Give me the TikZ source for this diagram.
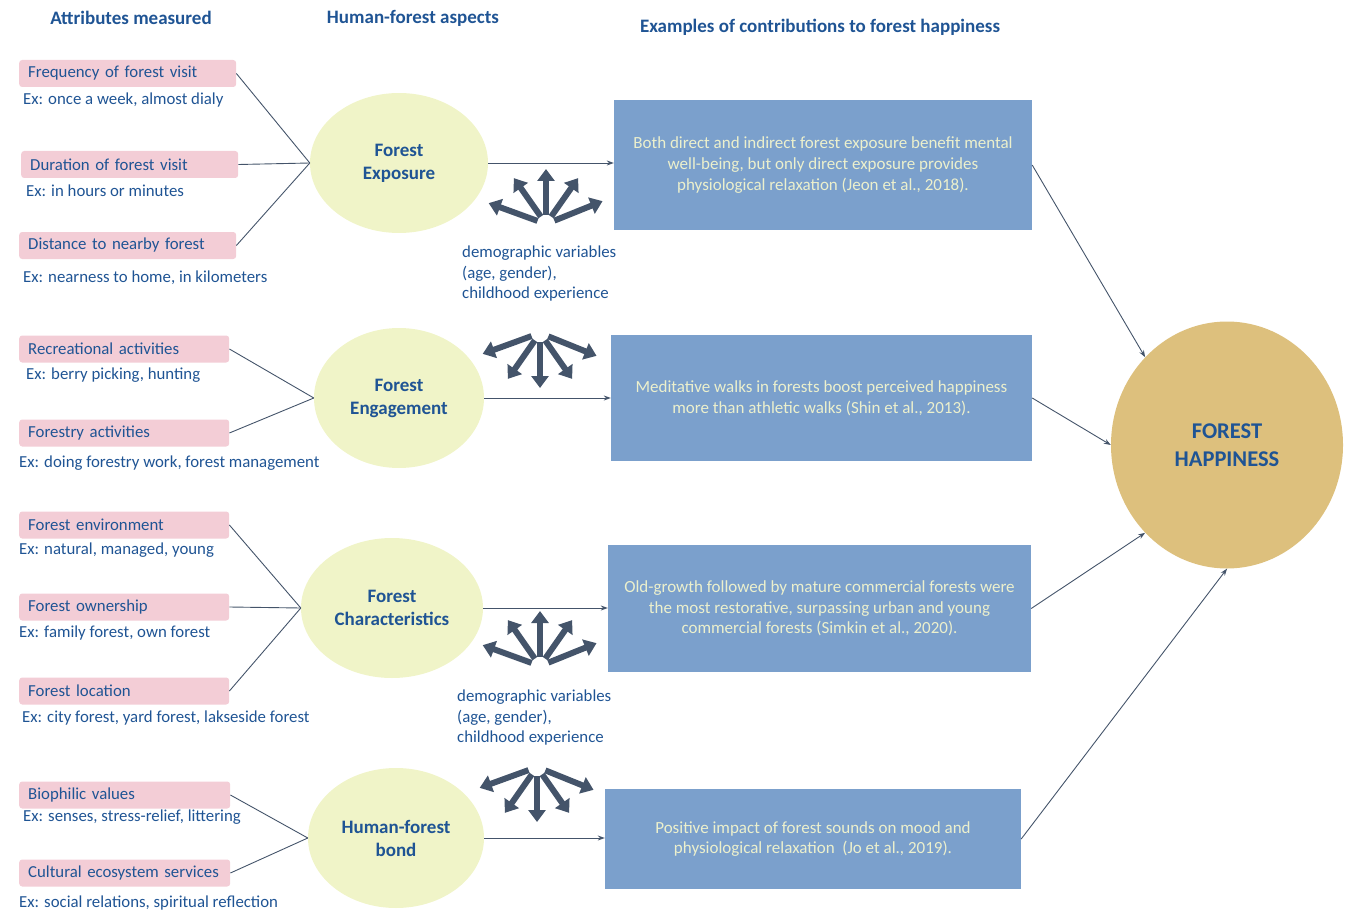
\documentclass[tikz,border=0pt]{standalone}
\usepackage{fontspec}
\setmainfont{Carlito}
\usetikzlibrary{arrows.meta, positioning, shapes.geometric}

\definecolor{bleutitre}{RGB}{31,84,148}
\definecolor{rose}{RGB}{243,205,214}
\definecolor{jaune}{RGB}{240,244,200}
\definecolor{bleuboite}{RGB}{123,160,204}
\definecolor{texteboite}{RGB}{236,240,205}
\definecolor{dore}{RGB}{221,192,125}
\definecolor{ardoise}{RGB}{68,84,106}

\begin{document}
\begin{tikzpicture}[
    x=1pt, y=-1pt,
    every node/.style={font=\fontsize{16.8}{20.5}\selectfont, text=bleutitre},
    titre/.style={font=\fontsize{19}{22}\selectfont\bfseries},
    attr/.style={fill=rose, rounded corners=3pt, anchor=west, minimum height=27pt, inner xsep=9pt, text width=199pt, align=left},
    ex/.style={anchor=west, inner sep=0pt},
    aspect/.style={ellipse, fill=jaune, inner sep=0pt, align=center, font=\fontsize{19}{23}\selectfont\bfseries},
    contrib/.style={fill=bleuboite, align=center, text=texteboite, font=\fontsize{17}{20.7}\selectfont},
    lien/.style={draw=ardoise, line width=0.9pt},
    fleche/.style={lien, -{Stealth[length=7pt, width=5pt]}},
    eventail/.style={draw=ardoise, line width=6pt, -{Triangle[width=17pt, length=12pt]}}
]
\useasboundingbox (0,0) rectangle (1346,912);

% Titres des colonnes
\node[titre] (t1) at (131,18) {Attributes measured};
\node[titre] (t2) at (413,18) {Human-forest aspects};
\node[titre] (t3) at (820,27) {Examples of contributions to forest happiness};

% Attributs mesurés
\node[attr] (a1) at (19,73.5) {Frequency of forest visit};
\node[ex] (x1) at (23,100) {Ex: once a week, almost dialy};
\node[attr] (a2) at (21,164.5) {Duration of forest visit};
\node[ex] (x2) at (26,191) {Ex: in hours or minutes};
\node[attr] (a3) at (19,245.5) {Distance to nearby forest};
\node[ex] (x3) at (23,278) {Ex: nearness to home, in kilometers};

\node[attr, text width=192pt] (a4) at (19,349) {Recreational activities};
\node[ex] (x4) at (26,375) {Ex: berry picking, hunting};
\node[attr, text width=192pt] (a5) at (19,433) {Forestry activities};
\node[ex] (x5) at (19,463) {Ex: doing forestry work, forest management};

\node[attr, text width=192pt] (a6) at (19,525) {Forest environment};
\node[ex] (x6) at (19,550) {Ex: natural, managed, young};
\node[attr, text width=192pt] (a7) at (19,607) {Forest ownership};
\node[ex] (x7) at (19,633) {Ex: family forest, own forest};
\node[attr, text width=192pt] (a8) at (19,691) {Forest location};
\node[ex] (x8) at (22,718) {Ex: city forest, yard forest, lakseside forest};

\node[attr, text width=193pt] (a9) at (19,795) {Biophilic values};
\node[ex] (x9) at (23,817) {Ex: senses, stress-relief, littering};
\node[attr, text width=193pt] (a10) at (19,873) {Cultural ecosystem services};
\node[ex] (x10) at (19,903) {Ex: social relations, spiritual reflection};

% Aspects humain-forêt
\node[aspect, minimum width=178pt, minimum height=140pt] (e1) at (399,163) {Forest\\Exposure};
\node[aspect, minimum width=170pt, minimum height=140pt] (e2) at (399,398) {Forest\\Engagement};
\node[aspect, minimum width=182pt, minimum height=140pt] (e3) at (392,608) {Forest\\Characteristics};
\node[aspect, minimum width=176pt, minimum height=140pt] (e4) at (396,838) {Human-forest\\bond};

% Exemples de contributions
\node[contrib, minimum width=418pt, minimum height=130pt] (b1) at (823,165)
  {Both direct and indirect forest exposure benefit mental\\well-being, but only direct exposure provides\\physiological relaxation (Jeon et al., 2018).};
\node[contrib, minimum width=421pt, minimum height=126pt] (b2) at (821.5,398)
  {Meditative walks in forests boost perceived happiness\\more than athletic walks (Shin et al., 2013).};
\node[contrib, minimum width=423pt, minimum height=127pt] (b3) at (819.5,608.5)
  {Old-growth followed by mature commercial forests were\\the most restorative, surpassing urban and young\\commercial forests (Simkin et al., 2020).};
\node[contrib, minimum width=416pt, minimum height=100pt] (b4) at (813,839)
  {Positive impact of forest sounds on mood and\\physiological relaxation\ \ (Jo et al., 2019).};

% Bonheur forestier
\node[ellipse, fill=dore, minimum width=232pt, minimum height=247pt, align=center,
      font=\fontsize{22.5}{28}\selectfont\bfseries] (hap) at (1227,445) {FOREST\\HAPPINESS};

% Variables démographiques
\node[anchor=west, inner sep=0pt, align=left] (d1) at (462,274) {demographic variables\\(age, gender),\\childhood experience};
\node[anchor=west, inner sep=0pt, align=left] (d2) at (457,718) {demographic variables\\(age, gender),\\childhood experience};

% Liens attributs -> aspects
\foreach \a in {a1,a2,a3} \draw[lien] (\a.east) -- (e1.west);
\foreach \a in {a4,a5} \draw[lien] (\a.east) -- (e2.west);
\foreach \a in {a6,a7,a8} \draw[lien] (\a.east) -- (e3.west);
\foreach \a in {a9,a10} \draw[lien] (\a.east) -- (e4.west);

% Aspects -> exemples
\foreach \i in {1,2,3,4} \draw[fleche] (e\i.east) -- (e\i.east -| b\i.west);

% Exemples -> bonheur
\draw[fleche] (b1.east) -- (hap.133);
\draw[fleche] (b2.east) -- (hap.west);
\draw[fleche] (b3.east) -- (hap.227);
\draw[fleche] (b4.east) -- (hap.south);

% Éventails de flèches épaisses (y inversé : angle négatif = vers le haut)
\coordinate (f1) at (546,224);
\coordinate (f2) at (540,333);
\coordinate (f3) at (540,666);
\coordinate (f4) at (537,767);
\foreach \a/\l in {22/52,55/47,90/46,125/47,160/52} {
  \draw[eventail] (f1) ++(-\a:9) -- ++(-\a:\l);
  \draw[eventail] (f2) ++(\a:9) -- ++(\a:\l);
  \draw[eventail] (f3) ++(-\a:9) -- ++(-\a:\l);
  \draw[eventail] (f4) ++(\a:9) -- ++(\a:\l);
}

\end{tikzpicture}
\end{document}
